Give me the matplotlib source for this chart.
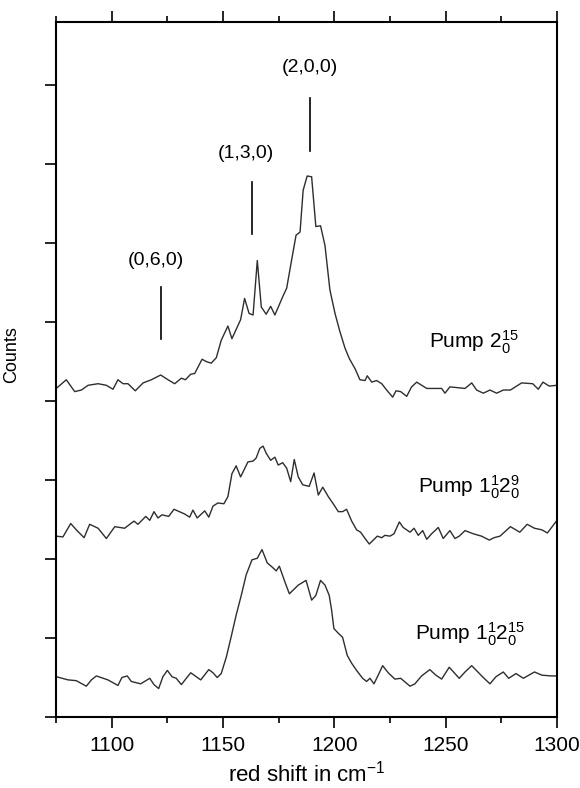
import matplotlib
matplotlib.use('Agg')
import matplotlib.pyplot as plt
from matplotlib.ticker import MultipleLocator, NullFormatter

plt.rcParams['font.family'] = ['Liberation Sans', 'DejaVu Sans']
plt.rcParams['mathtext.fontset'] = 'custom'
plt.rcParams['mathtext.rm'] = 'Liberation Sans'
plt.rcParams['mathtext.it'] = 'Liberation Sans:italic'
plt.rcParams['mathtext.bf'] = 'Liberation Sans:bold'

# ---------------- data ----------------
x_top = [1075.1, 1079.6, 1083.4, 1086.4, 1089.4, 1093.9, 1097.6, 1100.6, 1102.8, 1105.1,
         1107.3, 1110.6, 1114.1, 1117.8, 1122.0, 1125.3, 1128.3, 1131.3, 1133.1, 1135.5,
         1137.3, 1140.6, 1142.5, 1144.7, 1147.0, 1149.2, 1152.2, 1154.0, 1157.9, 1159.7,
         1161.7, 1163.5, 1165.4, 1167.2, 1169.4, 1171.4, 1173.3, 1176.8, 1178.6, 1180.4,
         1182.8, 1184.6, 1186.0, 1187.8, 1189.8, 1191.7, 1193.8, 1195.8, 1198.0, 1200.3,
         1202.5, 1204.8, 1206.7, 1209.3, 1211.5, 1213.8, 1214.8, 1216.8, 1219.0, 1221.3,
         1223.5, 1226.2, 1227.7, 1229.8, 1232.5, 1234.7, 1237.0, 1241.5, 1245.2, 1248.2,
         1249.7, 1251.9, 1258.7, 1261.7, 1263.9, 1266.9, 1269.9, 1272.9, 1275.9, 1279.1,
         1284.1, 1289.1, 1291.6, 1293.7, 1296.5, 1300.0]
y_top = [4.16, 4.27, 4.12, 4.14, 4.20, 4.22, 4.20, 4.15, 4.27, 4.22,
         4.22, 4.13, 4.23, 4.27, 4.33, 4.27, 4.22, 4.29, 4.27, 4.34,
         4.35, 4.53, 4.50, 4.48, 4.55, 4.77, 4.95, 4.79, 5.03, 5.30,
         5.11, 5.09, 5.78, 5.19, 5.10, 5.20, 5.09, 5.32, 5.43, 5.72,
         6.10, 6.14, 6.67, 6.85, 6.84, 6.21, 6.22, 5.97, 5.41, 5.11,
         4.88, 4.67, 4.54, 4.41, 4.27, 4.26, 4.32, 4.24, 4.26, 4.22,
         4.14, 4.05, 4.13, 4.12, 4.06, 4.18, 4.24, 4.16, 4.16, 4.16,
         4.10, 4.18, 4.16, 4.23, 4.14, 4.10, 4.14, 4.10, 4.14, 4.14,
         4.23, 4.22, 4.15, 4.24, 4.19, 4.20]

x_mid = [1075.1, 1078.1, 1081.6, 1084.1, 1087.6, 1090.1, 1093.9, 1097.6, 1101.4, 1105.8,
         1110.0, 1111.8, 1115.3, 1117.1, 1119.0, 1120.8, 1122.6, 1125.6, 1128.0, 1132.8,
         1135.0, 1136.5, 1138.4, 1141.8, 1143.6, 1145.5, 1147.7, 1150.4, 1152.2, 1154.0,
         1155.9, 1157.9, 1161.2, 1163.5, 1164.9, 1166.5, 1168.0, 1169.4, 1171.4, 1173.3,
         1174.8, 1176.8, 1178.6, 1180.4, 1182.0, 1183.8, 1185.8, 1188.7, 1190.9, 1192.8,
         1194.8, 1197.3, 1199.5, 1201.8, 1203.7, 1205.5, 1207.8, 1210.0, 1211.8, 1213.8,
         1215.7, 1217.5, 1219.3, 1221.3, 1222.7, 1225.0, 1226.8, 1229.2, 1230.9, 1234.0,
         1235.8, 1237.7, 1239.7, 1241.5, 1243.7, 1246.7, 1248.9, 1251.9, 1254.2, 1256.1,
         1258.7, 1262.4, 1266.1, 1269.6, 1271.7, 1274.4, 1279.1, 1283.3, 1286.6, 1289.9,
         1293.2, 1295.7, 1300.0]
y_mid = [2.29, 2.28, 2.45, 2.37, 2.27, 2.44, 2.39, 2.26, 2.41, 2.39,
         2.48, 2.44, 2.54, 2.49, 2.60, 2.52, 2.56, 2.54, 2.63, 2.57,
         2.53, 2.62, 2.52, 2.61, 2.53, 2.67, 2.71, 2.70, 2.79, 3.08,
         3.18, 3.04, 3.23, 3.24, 3.28, 3.40, 3.43, 3.34, 3.25, 3.29,
         3.19, 3.22, 3.15, 2.98, 3.26, 3.04, 2.94, 2.92, 3.09, 2.81,
         2.91, 2.79, 2.70, 2.60, 2.60, 2.63, 2.48, 2.37, 2.34, 2.26,
         2.19, 2.24, 2.29, 2.27, 2.30, 2.29, 2.32, 2.47, 2.40, 2.34,
         2.39, 2.30, 2.36, 2.25, 2.32, 2.40, 2.26, 2.36, 2.26, 2.29,
         2.36, 2.32, 2.29, 2.24, 2.27, 2.29, 2.41, 2.34, 2.44, 2.39,
         2.37, 2.33, 2.49]

x_bot = [1075.1, 1080.4, 1084.1, 1088.6, 1090.9, 1093.1, 1098.3, 1102.8, 1104.6, 1107.0,
         1108.8, 1113.0, 1117.1, 1119.0, 1121.1, 1123.0, 1125.0, 1127.1, 1129.0, 1131.3,
         1133.5, 1135.5, 1138.0, 1140.0, 1143.6, 1145.5, 1147.4, 1149.2, 1151.5, 1153.7,
         1155.9, 1158.2, 1160.4, 1163.0, 1165.4, 1167.5, 1169.9, 1172.0, 1173.9, 1175.3,
         1177.8, 1179.8, 1183.8, 1187.3, 1189.8, 1191.7, 1193.8, 1195.8, 1197.7, 1198.8,
         1199.8, 1201.8, 1203.7, 1205.8, 1207.8, 1210.0, 1212.7, 1214.5, 1216.0, 1217.8,
         1219.7, 1221.7, 1224.2, 1227.2, 1229.8, 1234.0, 1236.2, 1239.2, 1242.9, 1245.6,
         1248.2, 1251.6, 1256.1, 1258.7, 1261.7, 1266.9, 1269.9, 1272.6, 1275.9, 1278.3,
         1281.6, 1284.9, 1289.9, 1293.2, 1297.4, 1300.0]
y_bot = [0.51, 0.47, 0.46, 0.39, 0.47, 0.52, 0.47, 0.40, 0.50, 0.52,
         0.45, 0.42, 0.49, 0.41, 0.36, 0.51, 0.59, 0.51, 0.49, 0.41,
         0.49, 0.56, 0.51, 0.47, 0.60, 0.56, 0.50, 0.55, 0.76, 1.02,
         1.29, 1.54, 1.80, 1.99, 2.01, 2.12, 1.95, 1.90, 1.85, 1.91,
         1.71, 1.56, 1.67, 1.73, 1.48, 1.54, 1.73, 1.67, 1.54, 1.35,
         1.12, 1.06, 1.01, 0.78, 0.68, 0.59, 0.49, 0.45, 0.49, 0.42,
         0.53, 0.65, 0.56, 0.48, 0.49, 0.39, 0.42, 0.52, 0.60, 0.53,
         0.48, 0.63, 0.49, 0.57, 0.65, 0.50, 0.42, 0.51, 0.57, 0.49,
         0.55, 0.49, 0.57, 0.53, 0.52, 0.52]

mode_labels = ['(0,6,0)', '(1,3,0)', '(2,0,0)']
mode_pos = [1122.0, 1163.2, 1188.9]
mode_line_lo = [4.78, 6.11, 7.17]
mode_line_hi = [5.45, 6.78, 7.84]
mode_text_x = [1120.0, 1160.3, 1189.0]
mode_text_y = [5.78, 7.13, 8.22]

pump_labels = [r'Pump $\mathregular{2_0^{15}}$',
               r'Pump $\mathregular{1_0^1 2_0^9}$',
               r'Pump $\mathregular{1_0^1 2_0^{15}}$']
pump_x = [1242.5, 1237.5, 1236.2]
pump_y = [4.67, 2.83, 0.97]

xticks = [1100, 1150, 1200, 1250, 1300]

# ---------------- figure ----------------
fig = plt.figure(figsize=(5.8, 7.88), dpi=100)
ax = fig.add_axes([0.0966, 0.0901, 0.8637, 0.882])

line_color = '#2e2e2e'
for xs, ys in [(x_top, y_top), (x_mid, y_mid), (x_bot, y_bot)]:
    ax.plot(xs, ys, color=line_color, lw=1.0)

for px, lo, hi in zip(mode_pos, mode_line_lo, mode_line_hi):
    ax.plot([px, px], [lo, hi], color='black', lw=1.2)
for lab, tx, ty in zip(mode_labels, mode_text_x, mode_text_y):
    ax.text(tx, ty, lab, ha='center', va='center', fontsize=14)

for lab, tx, ty in zip(pump_labels, pump_x, pump_y):
    ax.text(tx, ty, lab, ha='left', va='baseline', fontsize=15)

ax.set_xlim(1075, 1300)
ax.set_ylim(0, 8.8)
ax.set_xticks(xticks)
ax.xaxis.set_minor_locator(MultipleLocator(25))
ax.yaxis.set_major_locator(MultipleLocator(1))
ax.yaxis.set_major_formatter(NullFormatter())

for sp in ax.spines.values():
    sp.set_linewidth(1.5)

ax.tick_params(axis='x', which='major', direction='out', length=8, width=1.2,
               top=True, bottom=True, labelsize=15, pad=6)
ax.tick_params(axis='x', which='minor', direction='out', length=4.3, width=1.2,
               top=True, bottom=True)
ax.tick_params(axis='y', which='major', direction='out', length=8, width=1.2,
               left=True, right=False)

ax.set_xlabel(r'red shift in cm$^{\mathregular{-1}}$', fontsize=16, labelpad=4)
ax.set_ylabel('Counts', fontsize=13)
ax.yaxis.set_label_coords(-0.071, 0.521)

fig.savefig('out.png', dpi=100)
